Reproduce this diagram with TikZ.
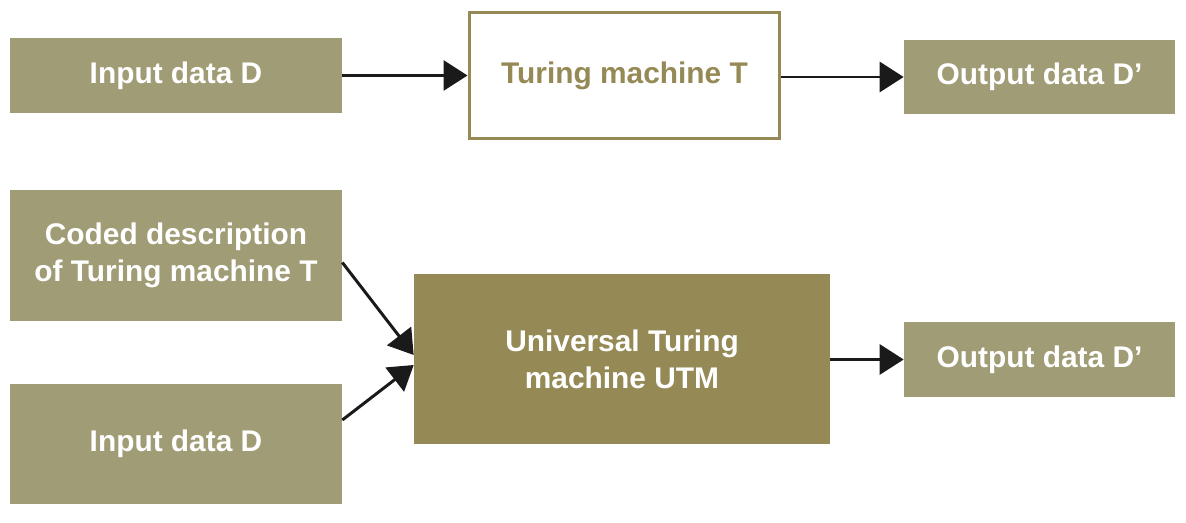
\documentclass[tikz,border=0pt]{standalone}
\usepackage{fontspec}
\setmainfont{Liberation Sans}
\usetikzlibrary{arrows.meta}
\definecolor{olivelight}{RGB}{160,156,118}
\definecolor{olivedark}{RGB}{149,138,85}
\definecolor{arrowblack}{RGB}{26,26,26}

\begin{document}
\begin{tikzpicture}[x=0.02cm,y=-0.02cm,
    box/.style={rectangle,fill=olivelight,text=white,font=\fontsize{17}{21}\selectfont\bfseries,align=center,inner sep=0pt},
    machine/.style={rectangle,draw=olivedark,line width=1.7pt,fill=white,text=olivedark,font=\fontsize{17}{21}\selectfont\bfseries,align=center,inner sep=0pt},
    utmbox/.style={rectangle,fill=olivedark,text=white,font=\fontsize{17}{21}\selectfont\bfseries,align=center,inner sep=0pt},
    link/.style={arrowblack,line width=1.7pt,-{Triangle[length=0.48cm,width=0.6cm]}}]
    \useasboundingbox (0,0) rectangle (1186,523);
    % top row
    \node[box,minimum width=6.64cm,minimum height=1.5cm] (inA) at (176,75.5) {Input data D};
    \node[machine,minimum width=6.22cm,minimum height=2.52cm] (tm) at (624.5,75.5) {Turing machine T};
    \node[box,minimum width=5.42cm,minimum height=1.48cm] (outA) at (1039.5,77) {Output data D'};
    \draw[link] (inA.east) -- (inA.east -| tm.west);
    \draw[link] (outA.west -| tm.east) -- (outA.west);
    % bottom row
    \node[box,minimum width=6.64cm,minimum height=2.62cm] (code) at (176,255.5) {Coded description\\of Turing machine T};
    \node[box,minimum width=6.64cm,minimum height=2.4cm] (inB) at (176,444) {Input data D};
    \node[utmbox,minimum width=8.32cm,minimum height=3.4cm] (utm) at (622,359) {Universal Turing\\machine UTM};
    \node[box,minimum width=5.42cm,minimum height=1.5cm] (outB) at (1039.5,359.5) {Output data D'};
    \draw[link] ([yshift=-0.14cm]code.east) -- ([yshift=0.08cm]utm.west);
    \draw[link] ([yshift=0.48cm]inB.east) -- ([yshift=-0.12cm]utm.west);
    \draw[link] (utm.east |- outB.west) -- (outB.west);
\end{tikzpicture}
\end{document}
